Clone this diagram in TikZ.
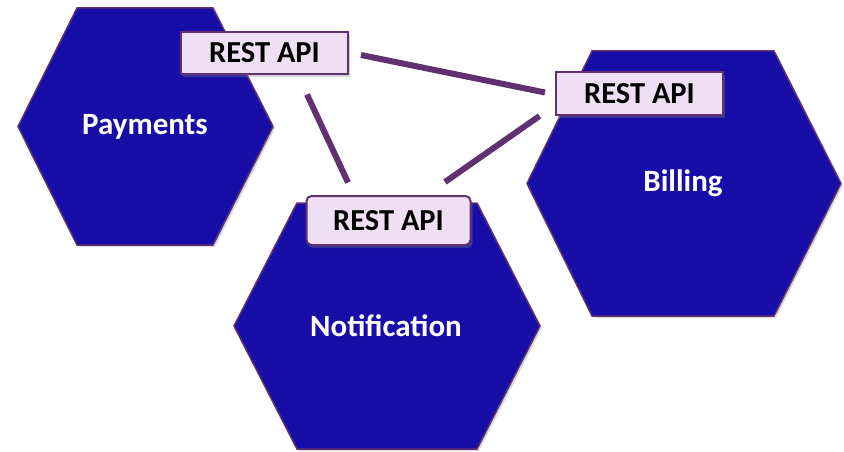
\documentclass[tikz,border=0pt]{standalone}
\usepackage{fontspec}
\setmainfont{Carlito}
\usetikzlibrary{shadows}

\definecolor{hexblue}{RGB}{23,14,167}
\definecolor{edgepurple}{RGB}{96,48,112}
\definecolor{apifill}{RGB}{240,222,245}

\begin{document}
\begin{tikzpicture}[x=1pt, y=-1pt,
	every node/.style={font=\bfseries\fontsize{31}{36}\selectfont},
	hex/.style={fill=hexblue, draw=edgepurple, line width=1.5pt,
		drop shadow={shadow xshift=2pt, shadow yshift=-2pt, opacity=0.3}},
	service/.style={text=white},
	api/.style={fill=apifill, draw=edgepurple, line width=2pt, text=black,
		minimum width=167pt, minimum height=42pt, inner sep=0pt,
		font=\bfseries\fontsize{30.5}{36}\selectfont,
		drop shadow={shadow xshift=2pt, shadow yshift=-3pt, opacity=0.35}},
	link/.style={draw=edgepurple, line width=6pt}]
	\useasboundingbox (0,0) rectangle (844,452);

	% Hexagons
	\draw[hex] (18,126.5) -- (77,8) -- (213,8) -- (273,126.5) -- (213,245) -- (77,245) -- cycle;
	\draw[hex] (527,183.5) -- (592,51) -- (774,51) -- (841,183.5) -- (774,316) -- (592,316) -- cycle;
	\draw[hex] (234,326) -- (297,203) -- (477,203) -- (540,326) -- (477,449) -- (297,449) -- cycle;

	% Service names
	\node[service] (payments) at (145,127) {Payments};
	\node[service] (billing) at (683,183) {Billing};
	\node[service] (notification) at (386,326) {Notification};

	% Connectors
	\coordinate (ab1) at (361,55);
	\coordinate (ab2) at (545,92.5);
	\coordinate (an1) at (307,94.5);
	\coordinate (an2) at (348,182.5);
	\coordinate (nb1) at (445,182);
	\coordinate (nb2) at (539.5,116);
	\draw[link] (ab1) -- (ab2);
	\draw[link] (an1) -- (an2);
	\draw[link] (nb1) -- (nb2);

	% REST API boxes
	\node[api] (restpay) at (264.5,53) {REST API};
	\node[api, minimum height=43pt] (restbill) at (639.5,93.5) {REST API};
	\node[api, rounded corners=5pt, minimum width=164pt, minimum height=49pt] (restnote) at (388.5,220.5) {REST API};
\end{tikzpicture}
\end{document}
